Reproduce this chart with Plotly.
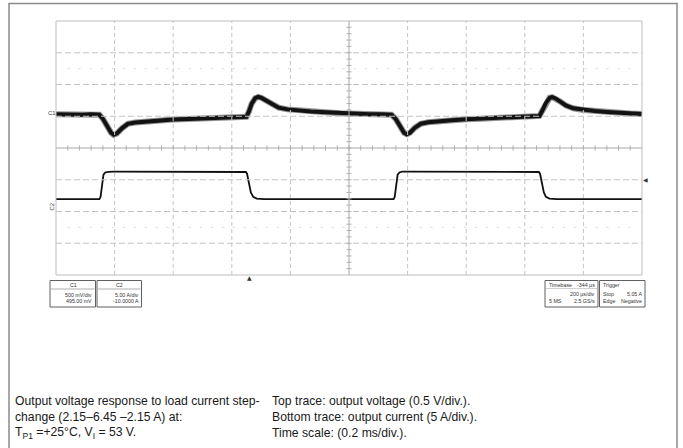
import plotly.graph_objects as go

# ---------------- data ----------------
# time in ms (0.2 ms/div), output-voltage deviation in mV (0.5 V/div), output current in A (5 A/div)
t_v = [0.000, 0.030, 0.060, 0.090, 0.120, 0.148, 0.160, 0.175, 0.188, 0.197, 0.208, 0.225, 0.245,
       0.270, 0.300, 0.350, 0.400, 0.450, 0.500, 0.550, 0.600, 0.640, 0.650, 0.658, 0.668, 0.680,
       0.690, 0.700, 0.715, 0.735, 0.760, 0.790, 0.830, 0.870, 0.920, 0.970, 1.020, 1.070, 1.110,
       1.145, 1.160, 1.175, 1.188, 1.197, 1.208, 1.225, 1.245, 1.270, 1.300, 1.350, 1.400, 1.450,
       1.500, 1.550, 1.600, 1.640, 1.650, 1.660, 1.672, 1.685, 1.693, 1.705, 1.720, 1.740, 1.765,
       1.800, 1.840, 1.880, 1.920, 1.960, 2.000]
v_mv = [0, -5, 5, -5, 0, -5, -70, -200, -290, -322, -300, -220, -150,
        -130, -115, -95, -80, -72, -62, -58, -50, -42, -38, 40, 170, 255,
        275, 262, 220, 160, 105, 78, 58, 45, 32, 18, 8, 3, 0,
        -5, -75, -200, -290, -312, -290, -210, -148, -125, -110, -92, -78, -68,
        -58, -50, -42, -30, -25, 60, 180, 262, 270, 250, 205, 140, 95,
        70, 52, 38, 25, 12, 5]

t_i = [0.000, 0.100, 0.148, 0.152, 0.157, 0.162, 0.168, 0.178, 0.200, 0.300, 0.400, 0.500,
       0.600, 0.648, 0.652, 0.658, 0.665, 0.673, 0.685, 0.710, 0.800, 0.900, 1.000, 1.100,
       1.152, 1.156, 1.161, 1.166, 1.172, 1.182, 1.200, 1.300, 1.400, 1.500, 1.600, 1.648,
       1.652, 1.658, 1.665, 1.672, 1.684, 1.710, 1.800, 1.900, 2.000]
i_a = [2.15, 2.15, 2.15, 2.5, 4.6, 6.0, 6.35, 6.45, 6.47, 6.46, 6.45, 6.44,
       6.43, 6.42, 6.15, 4.6, 3.2, 2.5, 2.22, 2.16, 2.15, 2.15, 2.15, 2.15,
       2.15, 2.5, 4.6, 6.0, 6.35, 6.47, 6.48, 6.46, 6.45, 6.44, 6.43, 6.42,
       6.15, 4.6, 3.2, 2.5, 2.22, 2.16, 2.15, 2.15, 2.15]

c1_box = ["C1", "500 mV/div", "495.00 mV"]
c2_box = ["C2", "5.00 A/div", "-10.0000 A"]
timebase_box = [("Timebase", "-344 µs"), ("", "200 µs/div"), ("5 MS", "2.5 GS/s")]
trigger_box = [("Trigger", ""), ("Stop", "5.05 A"), ("Edge", "Negative")]

caption_left = ["Output voltage response to load current step-",
                "change (2.15–6.45 –2.15 A) at:",
                "T<sub>P1</sub> =+25°C, V<sub>I</sub> = 53 V."]
caption_right = ["Top trace: output voltage (0.5 V/div.).",
                 "Bottom trace: output current (5 A/div.).",
                 "Time scale: (0.2 ms/div.)."]

# ---------------- layout geometry ----------------
W, H = 683, 448
L, R, T, B = 56, 642, 21, 275
PW, PH = R - L, B - T


def px(x):
    return (x - L) / PW


def py(y):
    return (B - y) / PH


fig = go.Figure()
# fuzzy band of the voltage trace
fig.add_trace(go.Scatter(x=t_v, y=v_mv, mode="lines", yaxis="y",
                         line=dict(color="rgba(20,20,20,0.45)", width=6), hoverinfo="skip",
                         showlegend=False))
fig.add_trace(go.Scatter(x=t_v, y=v_mv, mode="lines", yaxis="y",
                         line=dict(color="#121212", width=4), showlegend=False))
fig.add_trace(go.Scatter(x=t_i, y=i_a, mode="lines", yaxis="y2",
                         line=dict(color="#111111", width=1.8), showlegend=False))

shapes = []
grid_col = "#c4c4c4"
# outer page frame (open at the bottom)
shapes.append(dict(type="path", xref="paper", yref="paper",
                   path=f"M {px(9)} {py(460)} L {px(9)} {py(3.5)} L {px(677)} {py(3.5)} L {px(677)} {py(460)}",
                   line=dict(color="#8a8a8a", width=1.5)))
# plot frame
shapes.append(dict(type="rect", xref="paper", yref="paper", x0=0, x1=1, y0=0, y1=1,
                   line=dict(color="#bdbdbd", width=1)))
# dashed grid
for i in range(1, 10):
    if i == 5:
        continue
    shapes.append(dict(type="line", xref="paper", yref="paper", x0=i / 10, x1=i / 10, y0=0, y1=1,
                       line=dict(color=grid_col, width=1, dash="4px,3px")))
for j in range(1, 8):
    if j == 4:
        continue
    shapes.append(dict(type="line", xref="paper", yref="paper", x0=0, x1=1, y0=j / 8, y1=j / 8,
                       line=dict(color=grid_col, width=1, dash="6px,3px")))
# faint dotted rows
for yy in (1.5 / 8, 6.5 / 8):
    shapes.append(dict(type="line", xref="paper", yref="paper", x0=0.02, x1=0.98, y0=yy, y1=yy,
                       line=dict(color="#dadada", width=1, dash="2px,9px")))
# centre cross (solid) with minor ticks
shapes.append(dict(type="line", xref="paper", yref="paper", x0=0.5, x1=0.5, y0=0, y1=1,
                   line=dict(color="#a8a8a8", width=1)))
shapes.append(dict(type="line", xref="paper", yref="paper", x0=0, x1=1, y0=0.5, y1=0.5,
                   line=dict(color="#a8a8a8", width=1)))
tk = 2.5
for k in range(1, 50):
    xx = k / 50
    shapes.append(dict(type="line", xref="paper", yref="paper", x0=xx, x1=xx,
                       y0=0.5 - tk / PH, y1=0.5 + tk / PH, line=dict(color="#b0b0b0", width=1)))
for k in range(1, 40):
    yy = k / 40
    shapes.append(dict(type="line", xref="paper", yref="paper", x0=0.5 - tk / PW, x1=0.5 + tk / PW,
                       y0=yy, y1=yy, line=dict(color="#b0b0b0", width=1)))

# info boxes under the screen
def box(x0, x1, y0=280.5, y1=307):
    shapes.append(dict(type="rect", xref="paper", yref="paper", x0=px(x0), x1=px(x1),
                       y0=py(y1), y1=py(y0), line=dict(color="#606060", width=1)))


box(50, 95.5)
box(97, 141.5)
box(545, 598)
box(599.5, 645)
for (a, b) in ((51, 94.5), (98, 140.5)):
    shapes.append(dict(type="line", xref="paper", yref="paper", x0=px(a), x1=px(b),
                       y0=py(289), y1=py(289), line=dict(color="#9a9a9a", width=0.8)))
shapes.append(dict(type="line", xref="paper", yref="paper", x0=px(546), x1=px(597),
                   y0=py(288.5), y1=py(288.5), line=dict(color="#b0b0b0", width=0.6)))

ann = []
small = dict(family="Liberation Sans Narrow, Liberation Sans, Arial", size=5.3, color="#333333")


def text(x, y, s, xa="left", font=small, ya="middle", **kw):
    ann.append(dict(x=px(x), y=py(y), xref="paper", yref="paper", text=s, showarrow=False,
                    xanchor=xa, yanchor=ya, font=font, **kw))


text(73, 285, c1_box[0], "center")
text(93.5, 294.5, c1_box[1], "right")
text(93.5, 300.8, c1_box[2], "right")
text(119, 285, c2_box[0], "center")
text(140.5, 294.5, c2_box[1], "right")
text(140.5, 300.8, c2_box[2], "right")
rows_y = (284.5, 293.5, 300.5)
for (lft, rgt), yy in zip(timebase_box, rows_y):
    if lft:
        text(546.5, yy, lft, "left")
    if rgt:
        text(596.5, yy, rgt, "right")
for (lft, rgt), yy in zip(trigger_box, rows_y):
    if lft:
        text(601, yy, lft, "left")
    if rgt:
        text(643.5, yy, rgt, "right")

# channel markers
mark = dict(family="Liberation Sans", size=6, color="#444")
text(51.5, 113, "C1", "center", font=mark)
text(51.5, 207, "C2", "center", font=mark, textangle=-90)
text(249, 277.5, "▲", "center", font=dict(family="DejaVu Sans", size=6, color="#333"))
text(645.5, 179, "◀", "center", font=dict(family="DejaVu Sans", size=6, color="#333"))

cap = dict(family="Liberation Sans, Arial", size=12.2, color="#1a1a1a")
for k, s in enumerate(caption_left):
    text(13, 401 + k * 16, s, "left", font=cap)
for k, s in enumerate(caption_right):
    text(270, 401 + k * 16, s, "left", font=cap)

fig.update_layout(
    width=W, height=H,
    margin=dict(l=L, r=W - R, t=T, b=H - B, pad=0),
    paper_bgcolor="white", plot_bgcolor="white",
    xaxis=dict(range=[0, 2.0], visible=False, fixedrange=True),
    yaxis=dict(range=[-2530, 1470], visible=False, fixedrange=True),
    yaxis2=dict(range=[-9.8, 30.2], visible=False, overlaying="y", fixedrange=True),
    shapes=shapes, annotations=ann, showlegend=False,
)
fig.write_html("out.html", config={"displayModeBar": False},
               post_script="document.body.style.margin='0';document.body.style.overflow='hidden';")
